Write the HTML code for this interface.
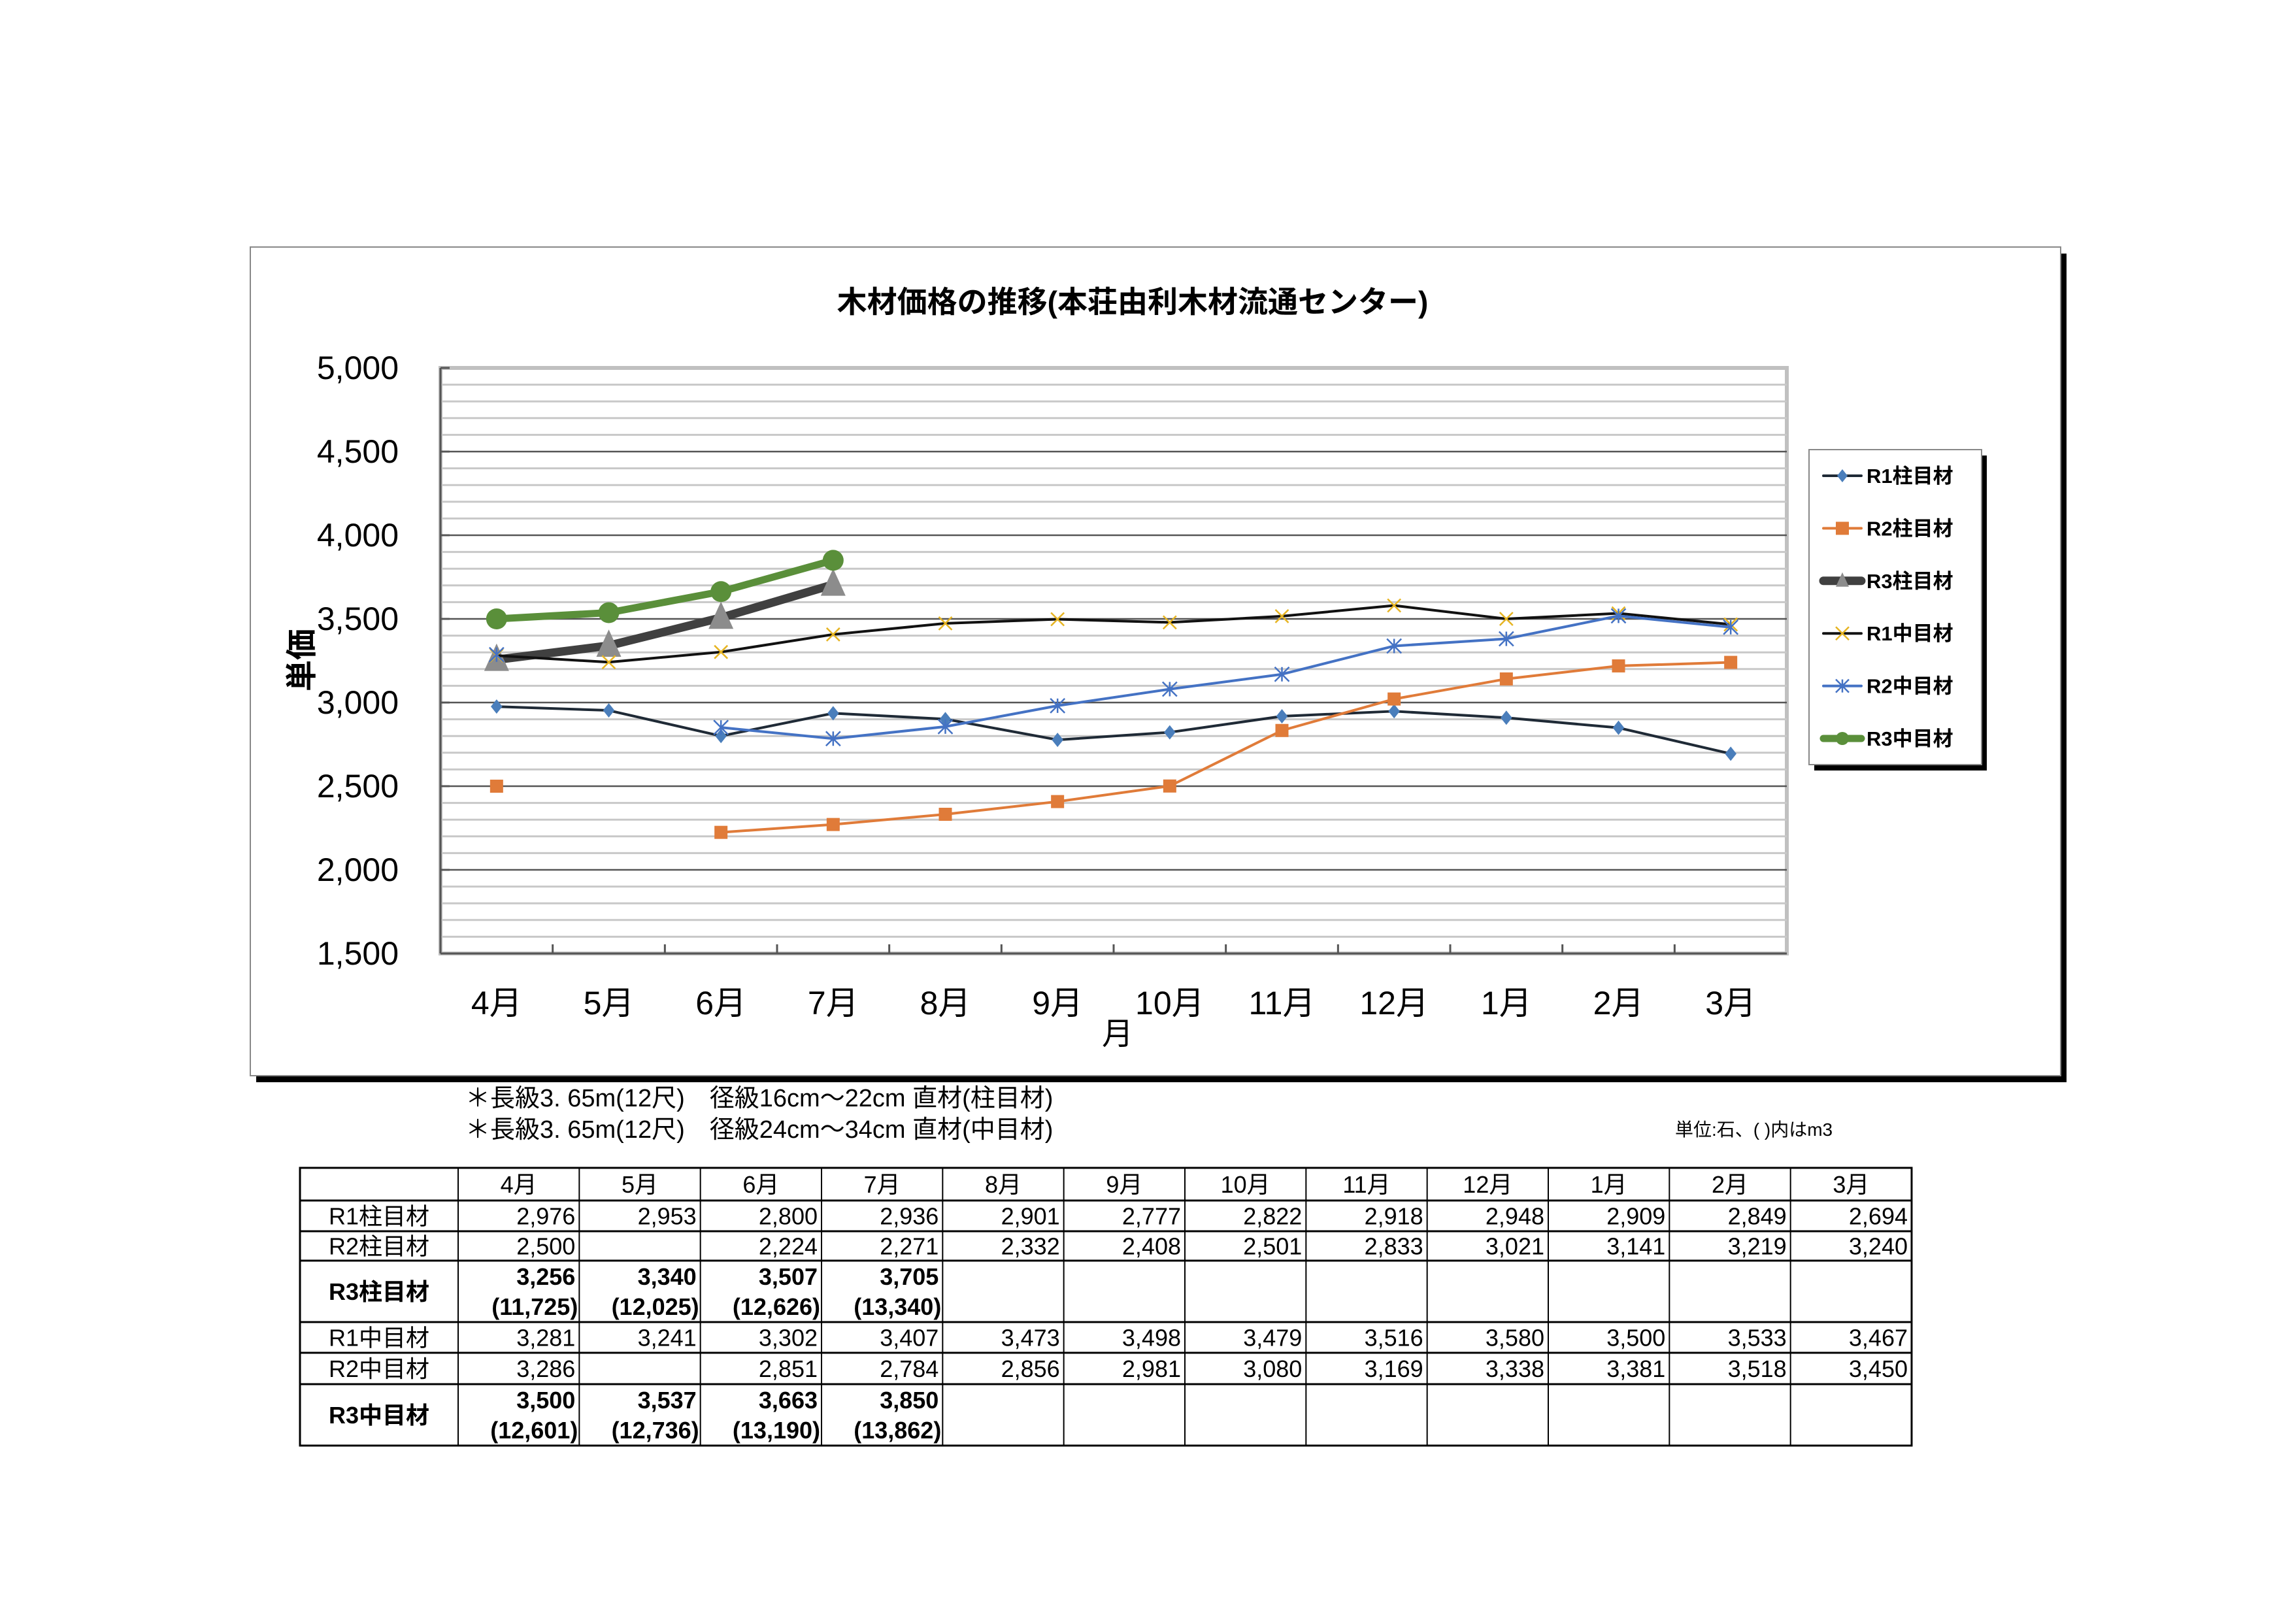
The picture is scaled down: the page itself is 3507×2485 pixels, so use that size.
<!DOCTYPE html>
<html><head><meta charset="utf-8"><style>
html,body{margin:0;padding:0;background:#fff}
svg text{font-family:"Liberation Sans","Noto Sans CJK JP",sans-serif}
</style></head><body>
<svg id="s" width="3507" height="2480" viewBox="0 0 3507 2480" xmlns="http://www.w3.org/2000/svg">
<rect x="392" y="388" width="2770" height="1268" fill="#000"/>
<rect x="383" y="378" width="2770" height="1268" fill="#fff" stroke="#888" stroke-width="2"/>
<text x="1733" y="478" font-size="46" font-weight="bold" text-anchor="middle">木材価格の推移(本荘由利木材流通センター)</text>
<g id="plot"></g>
<text transform="translate(478,1010) rotate(-90)" font-size="48" font-weight="bold" text-anchor="middle">単価</text>
<text x="1710" y="1598" font-size="48" text-anchor="middle">月</text>
<g id="legend"></g>
<text x="712" y="1693" font-size="38">＊長級3. 65m(12尺)　径級16cm～22cm  直材(柱目材)</text>
<text x="712" y="1741" font-size="38">＊長級3. 65m(12尺)　径級24cm～34cm  直材(中目材)</text>
<text x="2563" y="1738" font-size="28">単位:石、( )内はm3</text>
<g id="table"></g>
</svg>
<script>
const categories=["4月","5月","6月","7月","8月","9月","10月","11月","12月","1月","2月","3月"];
const yTicks=[1500,2000,2500,3000,3500,4000,4500,5000];
const seriesNames=["R1柱目材","R2柱目材","R3柱目材","R1中目材","R2中目材","R3中目材"];
const r1Hashira=[2976,2953,2800,2936,2901,2777,2822,2918,2948,2909,2849,2694];
const r2Hashira=[2500,null,2224,2271,2332,2408,2501,2833,3021,3141,3219,3240];
const r3Hashira=[3256,3340,3507,3705,null,null,null,null,null,null,null,null];
const r1Naka=[3281,3241,3302,3407,3473,3498,3479,3516,3580,3500,3533,3467];
const r2Naka=[3286,null,2851,2784,2856,2981,3080,3169,3338,3381,3518,3450];
const r3Naka=[3500,3537,3663,3850,null,null,null,null,null,null,null,null];
const r3HashiraM3=["(11,725)","(12,025)","(12,626)","(13,340)"];
const r3NakaM3=["(12,601)","(12,736)","(13,190)","(13,862)"];

const NS="http://www.w3.org/2000/svg";
function mk(tag,attrs,parent,name){const e=document.createElementNS(NS,tag);for(const k in attrs)e.setAttribute(k,attrs[k]);


parent.appendChild(e);return e;}
const PL=674,PR=2734,PT=563,PB=1459,YMIN=1500,YMAX=5000;
const xs=i=>PL+(PR-PL)/categories.length*(i+0.5);
const ys=v=>PB-(v-YMIN)/(YMAX-YMIN)*(PB-PT);
const plot=document.getElementById('plot');
mk('rect',{x:PL,y:PT,width:PR-PL,height:PB-PT,fill:'#fff',stroke:'#c0c0c0','stroke-width':6},plot,'plot-background');
for(let v=YMIN+100;v<YMAX;v+=100){const maj=v%500===0;
mk('line',{x1:PL,x2:PR,y1:ys(v),y2:ys(v),stroke:maj?'#555':'#c8c8c8','stroke-width':maj?2.5:3},plot,maj?'major-gridline':'minor-gridline');}
mk('line',{x1:PL,x2:PL,y1:PT,y2:PB,stroke:'#555','stroke-width':3},plot,'y-axis-line');
mk('line',{x1:PL,x2:PR,y1:PB,y2:PB,stroke:'#555','stroke-width':3},plot,'x-axis-line');
yTicks.forEach(v=>{const t=mk('text',{x:610,y:ys(v)+17,'font-size':50,'text-anchor':'end'},plot,'y-tick-label');t.textContent=v.toLocaleString('en-US');
mk('line',{x1:PL,x2:PL+14,y1:ys(v),y2:ys(v),stroke:'#555','stroke-width':3},plot,'y-tick');});
categories.forEach((c,i)=>{const bx=PL+(PR-PL)/12*i;if(i>0)mk('line',{x1:bx,x2:bx,y1:PB,y2:PB-14,stroke:'#555','stroke-width':3},plot,'x-tick');
const t=mk('text',{x:xs(i),y:1552,'font-size':50,'text-anchor':'middle'},plot,'x-tick-label');t.textContent=c;});

const styles=[
 {data:r1Hashira,line:'#1f2a36',w:4,m:'diamond',mc:'#4a7ebb',ms:11},
 {data:r2Hashira,line:'#e07b39',w:4,m:'square',mc:'#e07b39',ms:10},
 {data:r3Hashira,line:'#404040',w:13,m:'triangle',mc:'#8c8c8c',ms:19},
 {data:r1Naka,line:'#111',w:4,m:'x',mc:'#e6b422',ms:10},
 {data:r2Naka,line:'#4472c4',w:4,m:'star',mc:'#4472c4',ms:11},
 {data:r3Naka,line:'#5a8f3a',w:11,m:'circle',mc:'#5a8f3a',ms:16}];
function marker(g,s,x,y,name){const r=s.ms;
 if(s.m==='diamond')mk('polygon',{points:`${x},${y-r} ${x+r*0.8},${y} ${x},${y+r} ${x-r*0.8},${y}`,fill:s.mc},g,name);
 else if(s.m==='square')mk('rect',{x:x-r,y:y-r,width:2*r,height:2*r,fill:s.mc},g,name);
 else if(s.m==='triangle')mk('polygon',{points:`${x},${y-r*1.3} ${x+r},${y+r*0.9} ${x-r},${y+r*0.9}`,fill:s.mc},g,name);
 else if(s.m==='circle')mk('circle',{cx:x,cy:y,r:r,fill:s.mc},g,name);
 else if(s.m==='x')mk('path',{d:`M${x-r},${y-r}L${x+r},${y+r}M${x+r},${y-r}L${x-r},${y+r}`,stroke:s.mc,'stroke-width':2.5},g,name);
 else mk('path',{d:`M${x-r},${y-r}L${x+r},${y+r}M${x+r},${y-r}L${x-r},${y+r}M${x},${y-r}L${x},${y+r}`,stroke:s.mc,'stroke-width':2.5},g,name);}
styles.forEach((s,si)=>{const g=mk('g',{},plot,'series-'+seriesNames[si]);
 let d='';let prev=false;s.data.forEach((v,i)=>{if(v==null){prev=false;return;}d+=(prev?'L':'M')+xs(i)+','+ys(v);prev=true;});
 mk('path',{d:d,fill:'none',stroke:s.line,'stroke-width':s.w,'stroke-linejoin':'round','stroke-linecap':'round'},g,'series-line');
 s.data.forEach((v,i)=>{if(v!=null)marker(g,s,xs(i),ys(v),'data-point');});});

const lg=document.getElementById('legend');
mk('rect',{x:2776,y:697,width:264,height:482,fill:'#000'},lg,'legend-shadow');
mk('rect',{x:2768,y:688,width:264,height:482,fill:'#fff',stroke:'#888','stroke-width':2},lg,'legend-box');
styles.forEach((s,i)=>{const y=728+i*80.4;const g=mk('g',{},lg,'legend-entry');
 mk('line',{x1:2790,x2:2848,y1:y,y2:y,stroke:s.line,'stroke-width':s.w,'stroke-linecap':'round'},g,'legend-line');
 marker(g,Object.assign({},s,{ms:Math.min(s.ms,10)}),2819,y,'legend-marker');
 const t=mk('text',{x:2856,y:y+11,'font-size':31,'font-weight':'bold'},g,'legend-label');t.textContent=seriesNames[i];});

const tb=document.getElementById('table');
const TX=459,TR=2925,C0=701,cw=(TR-C0)/12;
const rowsY=[1787,1837,1884,1929,2023,2070,2118,2212];
const rowData=[r1Hashira,r2Hashira,r3Hashira,r1Naka,r2Naka,r3Naka];
const fmt=v=>v==null?'':v.toLocaleString('en-US');
mk('rect',{x:TX,y:rowsY[0],width:TR-TX,height:rowsY[7]-rowsY[0],fill:'none',stroke:'#000','stroke-width':3},tb,'table-border');
rowsY.slice(1,7).forEach(y=>mk('line',{x1:TX,x2:TR,y1:y,y2:y,stroke:'#000','stroke-width':3},tb,'row-line'));
mk('line',{x1:C0,x2:C0,y1:rowsY[0],y2:rowsY[7],stroke:'#000','stroke-width':2},tb,'col-line');
for(let i=1;i<12;i++)mk('line',{x1:C0+cw*i,x2:C0+cw*i,y1:rowsY[0],y2:rowsY[7],stroke:'#000','stroke-width':2},tb,'col-line');
categories.forEach((c,i)=>{const t=mk('text',{x:C0+cw*(i+0.5),y:1825,'font-size':36,'text-anchor':'middle'},tb,'header-cell');t.textContent=c;});
rowData.forEach((d,r)=>{const y0=rowsY[r+1],y1=rowsY[r+2];const tall=(r===2||r===5);
 const lab=mk('text',{x:580,y:(y0+y1)/2+13,'font-size':36,'text-anchor':'middle','font-weight':tall?'bold':'normal'},tb,'row-label');lab.textContent=seriesNames[r];
 d.forEach((v,i)=>{const x=C0+cw*(i+1)-6;
  if(tall){if(v==null)return;const t=mk('text',{x:x,y:y0+37,'font-size':36,'font-weight':'bold','text-anchor':'end'},tb,'value-cell');t.textContent=fmt(v);
   const m=(r===2?r3HashiraM3:r3NakaM3)[i];const t2=mk('text',{x:x+4,y:y0+83,'font-size':36,'font-weight':'bold','text-anchor':'end'},tb,'m3-cell');t2.textContent=m;}
  else{const t=mk('text',{x:x,y:(y0+y1)/2+13,'font-size':36,'text-anchor':'end'},tb,'value-cell');t.textContent=fmt(v);}});});
</script>
</body></html>
